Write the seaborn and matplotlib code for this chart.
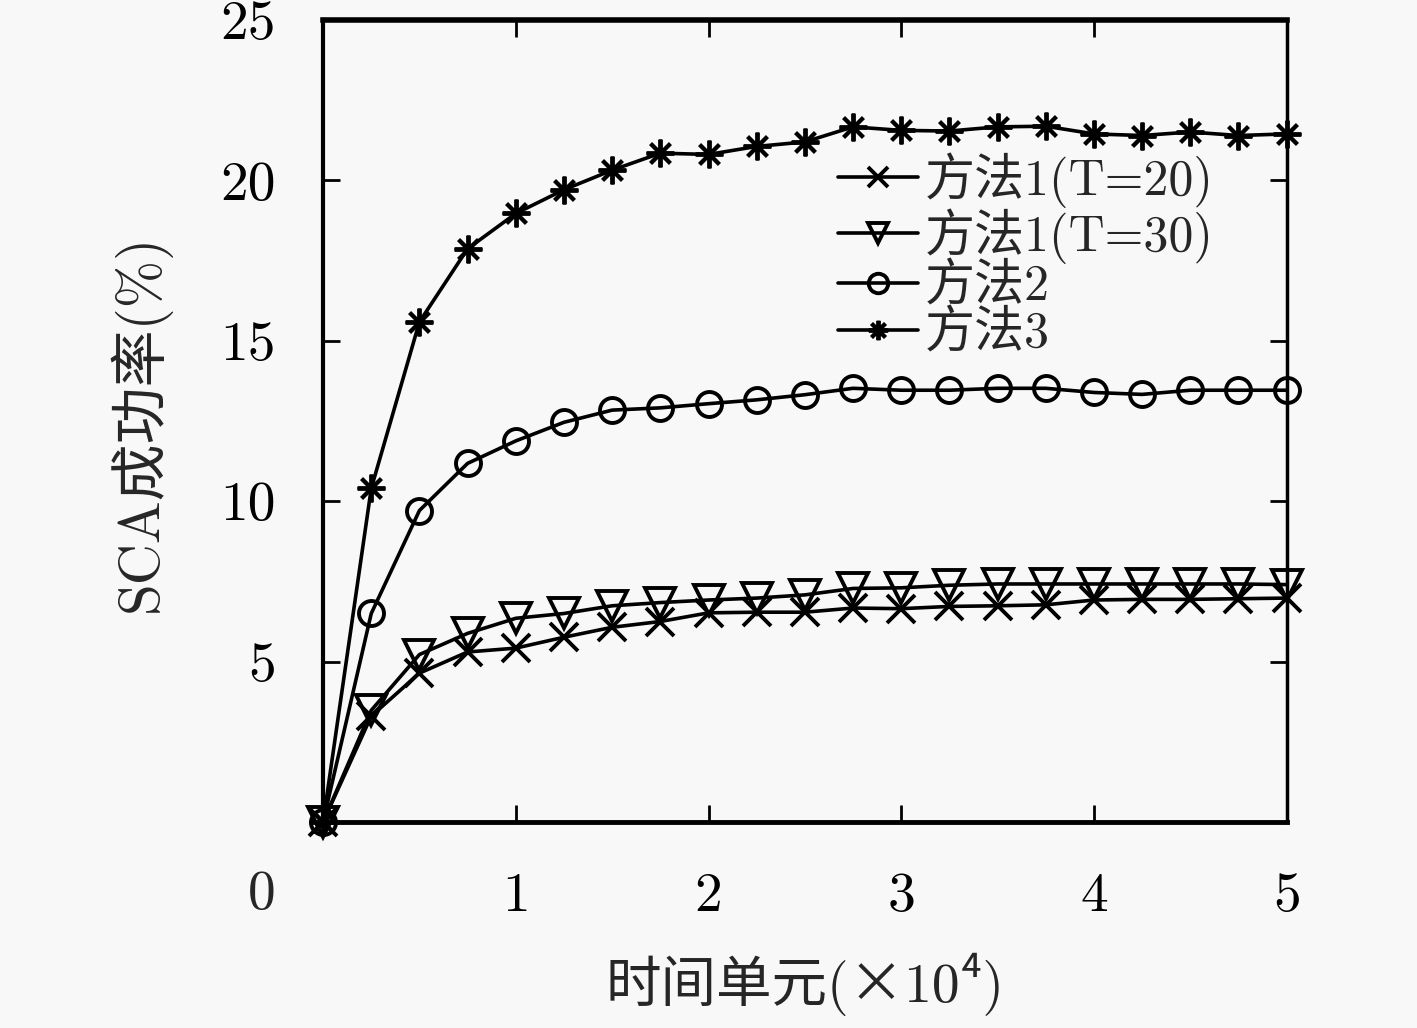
import numpy as np
import pandas as pd
import seaborn as sns
import matplotlib.pyplot as plt

# time units (x10^4), one point every 0.25
time_units = [0, 0.25, 0.5, 0.75, 1.0, 1.25, 1.5, 1.75, 2.0, 2.25, 2.5,
              2.75, 3.0, 3.25, 3.5, 3.75, 4.0, 4.25, 4.5, 4.75, 5.0]

# SCA success rate (%) per method
method1_t20 = [0, 3.3, 4.64, 5.3, 5.42, 5.76, 6.07, 6.25, 6.52, 6.54, 6.54,
               6.67, 6.65, 6.72, 6.74, 6.77, 6.92, 6.94, 6.94, 6.96, 6.98]
method1_t30 = [0, 3.48, 5.22, 5.88, 6.35, 6.5, 6.74, 6.84, 6.92, 6.98, 7.08,
               7.28, 7.3, 7.38, 7.42, 7.42, 7.42, 7.42, 7.42, 7.42, 7.4]
method2 = [0, 6.5, 9.71, 11.18, 11.88, 12.46, 12.84, 12.91, 13.04, 13.16, 13.32,
           13.52, 13.46, 13.46, 13.52, 13.52, 13.39, 13.33, 13.46, 13.46, 13.46]
method3 = [0, 10.4, 15.59, 17.87, 18.97, 19.71, 20.32, 20.85, 20.81, 21.06, 21.2,
           21.67, 21.56, 21.54, 21.67, 21.69, 21.45, 21.4, 21.51, 21.4, 21.45]

series_names = ["方法1(T=20)", "方法1(T=30)", "方法2", "方法3"]
series_values = [method1_t20, method1_t30, method2, method3]
series_markers = ["x", "v", "o", (8, 2, 0)]
marker_sizes = [20, 21, 18, 20]

x_ticks = [1, 2, 3, 4, 5]
y_ticks = [5, 10, 15, 20, 25]

sns.set_theme(style="ticks")
plt.rcParams["font.family"] = ["cmr10", "Noto Sans CJK SC", "DejaVu Sans"]
plt.rcParams["axes.unicode_minus"] = False

bg = "#f8f8f8"
fig = plt.figure(figsize=(14.17, 10.28), dpi=100, facecolor=bg)
ax = fig.add_axes([0.228, 0.2004, 0.68, 0.7801])
ax.set_facecolor(bg)

for name, vals, mk, ms in zip(series_names, series_values, series_markers, marker_sizes):
    df = pd.DataFrame({"t": time_units, "rate": vals})
    filled = mk in ("x", (8, 2, 0))
    sns.lineplot(data=df, x="t", y="rate", ax=ax, color="black", linewidth=2.6,
                 marker=mk, markersize=ms,
                 markerfacecolor="black" if filled else "none",
                 markeredgecolor="black", markeredgewidth=2.8,
                 label=name, clip_on=False)

ax.set_xlim(0, 5)
ax.set_ylim(0, 25)
ax.set_xticks(x_ticks)
ax.set_yticks(y_ticks)
ax.set_xticklabels([str(v) for v in x_ticks])
ax.set_yticklabels([str(v) for v in y_ticks])
ax.tick_params(axis="both", which="both", direction="in", length=12, width=2,
               labelsize=40, colors="black")
ax.tick_params(axis="x", top=True, pad=36)
ax.tick_params(axis="y", right=True, pad=34)

for side, lw in (("left", 3), ("bottom", 3.5), ("top", 4), ("right", 2.5)):
    ax.spines[side].set_visible(True)
    ax.spines[side].set_linewidth(lw)
    ax.spines[side].set_color("black")

# shared origin label at the corner
ax.annotate("0", xy=(0, 0), xycoords="axes fraction", xytext=(-44, -53),
            textcoords="offset points", ha="center", va="center", fontsize=40)

ax.set_xlabel("时间单元(×10⁴)", fontsize=40)
ax.set_ylabel("SCA成功率(%)", fontsize=41)
ax.xaxis.set_label_coords(0.5, -0.163)
ax.yaxis.set_label_coords(-0.158, 0.497)

leg = ax.legend(loc="upper left", bbox_to_anchor=(0.534, 0.835), frameon=False,
                fontsize=36, handlelength=1.6, handletextpad=0.14,
                labelspacing=0.0, borderaxespad=0, borderpad=0)
for line in leg.get_lines():
    line.set_linewidth(2.6)
    line.set_markersize(14)

fig.savefig("out.png", dpi=100, facecolor=bg)
